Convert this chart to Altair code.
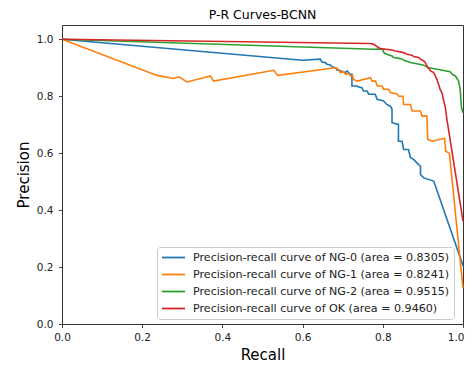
import altair as alt
import pandas as pd

labels = [
    "Precision-recall curve of NG-0 (area = 0.8305)",
    "Precision-recall curve of NG-1 (area = 0.8241)",
    "Precision-recall curve of NG-2 (area = 0.9515)",
    "Precision-recall curve of OK (area = 0.9460)",
]
colors = ["#1f77b4", "#ff7f0e", "#2ca02c", "#d62728"]

ng0_recall = [0, 0.599, 0.644, 0.648, 0.657, 0.661, 0.669, 0.673, 0.682, 0.686, 0.694, 0.707, 0.711,
              0.719, 0.723, 0.723, 0.736, 0.740, 0.748, 0.752, 0.761, 0.765, 0.781, 0.786, 0.802, 0.810,
              0.819, 0.823, 0.823, 0.839, 0.839, 0.848, 0.852, 0.864, 0.869, 0.877, 0.885, 0.894, 0.894,
              0.902, 0.927, 1.0]
ng0_precision = [1.0, 0.926, 0.930, 0.920, 0.918, 0.912, 0.910, 0.903, 0.900, 0.892, 0.889, 0.883, 0.889,
                 0.877, 0.877, 0.836, 0.836, 0.832, 0.830, 0.818, 0.818, 0.807, 0.807, 0.789, 0.783, 0.771,
                 0.765, 0.754, 0.707, 0.701, 0.642, 0.642, 0.613, 0.613, 0.584, 0.578, 0.566, 0.554, 0.525,
                 0.513, 0.502, 0.205]

ng1_recall = [0, 0.237, 0.278, 0.291, 0.312, 0.370, 0.378, 0.528, 0.538, 0.682, 0.690, 0.694, 0.702,
              0.707, 0.715, 0.719, 0.725, 0.727, 0.736, 0.769, 0.773, 0.782, 0.786, 0.798, 0.802, 0.815,
              0.819, 0.835, 0.840, 0.850, 0.852, 0.869, 0.873, 0.894, 0.898, 0.910, 0.912, 0.923, 0.954,
              0.957, 0.966, 1.0]
ng1_precision = [1.0, 0.873, 0.862, 0.868, 0.850, 0.871, 0.853, 0.891, 0.873, 0.900, 0.894, 0.883, 0.886,
                 0.877, 0.880, 0.871, 0.871, 0.859, 0.853, 0.865, 0.853, 0.853, 0.836, 0.836, 0.824, 0.824,
                 0.812, 0.809, 0.800, 0.800, 0.771, 0.771, 0.748, 0.748, 0.730, 0.730, 0.648, 0.642, 0.652,
                 0.607, 0.600, 0.127]

ng2_recall = [0, 0.777, 0.798, 0.803, 0.810, 0.823, 0.827, 0.844, 0.856, 0.869, 0.885, 0.902, 0.914,
              0.939, 0.968, 0.973, 0.981, 0.989, 0.993, 0.996, 1.0]
ng2_precision = [1.0, 0.965, 0.966, 0.953, 0.947, 0.941, 0.936, 0.932, 0.924, 0.918, 0.914, 0.909, 0.900,
                 0.894, 0.886, 0.877, 0.871, 0.853, 0.824, 0.760, 0.742]

ok_recall = [0, 0.769, 0.777, 0.794, 0.823, 0.831, 0.852, 0.860, 0.873, 0.877, 0.889, 0.894, 0.902,
             0.906, 0.910, 0.919, 0.927, 0.931, 0.935, 0.939, 0.943, 0.948, 0.952, 0.956, 0.960, 1.0]
ok_precision = [1.0, 0.985, 0.982, 0.967, 0.962, 0.959, 0.953, 0.947, 0.944, 0.939, 0.936, 0.930, 0.924,
                0.918, 0.906, 0.889, 0.883, 0.871, 0.859, 0.842, 0.824, 0.810, 0.783, 0.760, 0.718, 0.361]

series = [
    (labels[0], ng0_recall, ng0_precision),
    (labels[1], ng1_recall, ng1_precision),
    (labels[2], ng2_recall, ng2_precision),
    (labels[3], ok_recall, ok_precision),
]
rows = []
for name, rs, ps in series:
    for i, (r, p) in enumerate(zip(rs, ps)):
        rows.append({"curve": name, "recall": r, "precision": p, "idx": i})
df = pd.DataFrame(rows)

FONT = "DejaVu Sans"
ticks = [0.0, 0.2, 0.4, 0.6, 0.8, 1.0]

x_label_align = {"condition": {"test": "datum.value >= 1", "value": "right"}, "value": "center"}
x_label_offset = {"condition": {"test": "datum.value >= 1", "value": 1}, "value": 0}

chart = alt.Chart(df).mark_line(strokeWidth=1.6).encode(
    x=alt.X("recall:Q", title="Recall",
            scale=alt.Scale(domain=[0, 1], nice=False, zero=False),
            axis=alt.Axis(values=ticks, format=".1f", grid=False, labelFlush=False,
                          labelOverlap=False, labelPadding=4.5, titlePadding=5,
                          labelAlign=x_label_align, labelOffset=x_label_offset)),
    y=alt.Y("precision:Q", title="Precision",
            scale=alt.Scale(domain=[0, 1.05], nice=False, zero=False),
            axis=alt.Axis(values=ticks, format=".1f", grid=False, labelFlush=False,
                          labelOverlap=False, labelPadding=5.5, titlePadding=5)),
    color=alt.Color("curve:N", scale=alt.Scale(domain=labels, range=colors),
                    legend=alt.Legend(title=None, orient="none", legendX=95, legendY=222,
                                      symbolType="stroke", symbolSize=529, symbolStrokeWidth=1.8,
                                      labelFontSize=11.1, labelFont=FONT, labelColor="#222222",
                                      labelLimit=0, labelOffset=7, clipHeight=13, rowPadding=4,
                                      padding=4,
                                      fillColor="rgba(255,255,255,0.85)", strokeColor="#cccccc",
                                      cornerRadius=3)),
    order=alt.Order("idx:Q"),
    detail="curve:N",
).properties(
    width=401, height=299,
    title=alt.TitleParams("P-R Curves-BCNN", fontSize=12.5, fontWeight="normal", font=FONT,
                          color="#000000", offset=4),
    autosize=alt.AutoSizeParams(type="none"),
    padding={"left": 54, "top": 17, "right": 2, "bottom": 40},
).configure_view(
    stroke="#333333", strokeWidth=1
).configure_axis(
    domain=False, tickColor="#333333", tickSize=3.5, tickWidth=0.9,
    labelFont=FONT, labelFontSize=10.5, labelColor="#222222",
    titleFont=FONT, titleFontSize=15, titleFontWeight="normal", titleColor="#000000",
)

chart.save("out.html", embed_options={"renderer": "svg", "actions": False})
